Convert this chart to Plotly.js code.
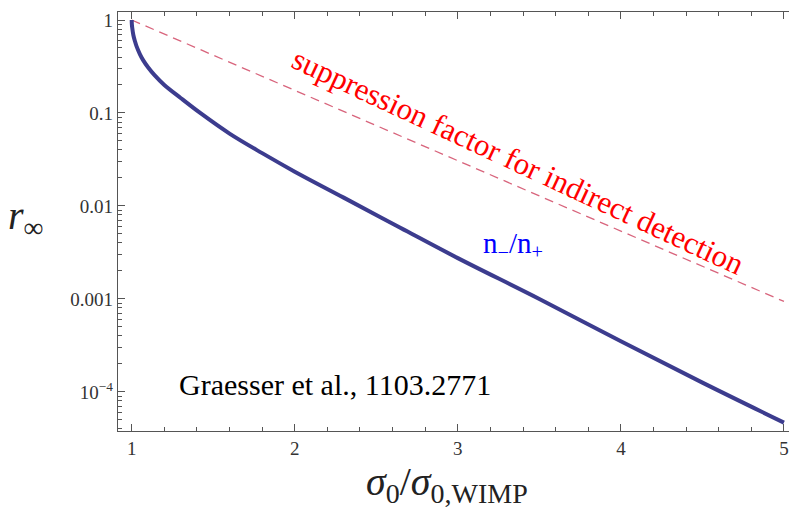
<!DOCTYPE html>
<html>
<head>
<meta charset="utf-8">
<script src="https://cdn.plot.ly/plotly-3.0.1.min.js"></script>
<style>html,body{margin:0;padding:0;background:#fff;}#chart{width:789px;height:508px;}</style>
</head>
<body>
<div id="chart"></div>
<script>
// sigma0 / sigma0,WIMP
const ratioX = [1, 1.001, 1.003, 1.01, 1.02, 1.03, 1.05, 1.07, 1.1, 1.14, 1.2, 1.3, 1.42, 1.6, 1.8, 2.0, 2.3, 2.65, 3.0, 3.5, 4.0, 4.5, 5.0];
// n-/n+ (r_infinity)
const ratioY = [1, 0.9, 0.83, 0.69, 0.59, 0.52, 0.43, 0.37, 0.31, 0.255, 0.2, 0.145, 0.1, 0.06, 0.037, 0.0234, 0.0123, 0.0058, 0.00275, 0.001, 0.00035, 0.000126, 0.0000468];
// suppression factor for indirect detection (dashed)
const suppX = [1, 2, 3, 4, 5];
const suppY = [1, 0.175, 0.0306, 0.00537, 0.00094];
// tick labels
const yTickVals = [1, 0.1, 0.01, 0.001, 0.0001];
const yTickText = ['1', '0.1', '0.01', '0.001', '10<sup>−4</sup>'];
const xTickVals = [1, 2, 3, 4, 5];
const xTickText = ['1', '2', '3', '4', '5'];

const serif = "'Liberation Serif', 'Times New Roman', serif";

const traces = [
  {x: suppX, y: suppY, mode: 'lines', line: {color: '#d8647c', width: 1.3, dash: '9px,6px'}, hoverinfo: 'skip'},
  {x: ratioX, y: ratioY, mode: 'lines', line: {color: '#3c3c8e', width: 4, shape: 'spline', smoothing: 1}, hoverinfo: 'skip'}
];

const layout = {
  width: 789, height: 508,
  margin: {l: 118, r: 0, t: 12, b: 77},
  paper_bgcolor: '#fff', plot_bgcolor: '#fff',
  showlegend: false,
  xaxis: {
    range: [0.916, 5.031], showgrid: false, zeroline: false,
    showline: true, linecolor: '#555', linewidth: 1.2, mirror: 'ticks',
    ticks: 'inside', ticklen: 7, tickcolor: '#555', tickwidth: 1,
    tickvals: xTickVals, ticktext: xTickText,
    tickfont: {family: serif, size: 19, color: '#333'},
    minor: {ticks: 'inside', ticklen: 4, tickcolor: '#555', dtick: 0.2, tick0: 1, showgrid: false}
  },
  yaxis: {
    type: 'log', range: [-4.42, 0.086], showgrid: false, zeroline: false,
    showline: true, linecolor: '#555', linewidth: 1.2,
    ticks: 'inside', ticklen: 7, tickcolor: '#555', tickwidth: 1,
    tickvals: yTickVals, ticktext: yTickText,
    tickfont: {family: serif, size: 19, color: '#333'},
    minor: {ticks: 'inside', ticklen: 4, tickcolor: '#555', dtick: 'D1', showgrid: false}
  },
  annotations: [
    {x: 3.37, y: -1.52, xref: 'x', yref: 'y', text: 'suppression factor for indirect detection',
     showarrow: false, textangle: 25, font: {family: serif, size: 31, color: '#ff0000'}},
    {x: 3.34, y: -2.417, xref: 'x', yref: 'y', text: 'n<sub>−</sub>/n<sub>+</sub>',
     showarrow: false, font: {family: serif, size: 29, color: '#0000ff'}},
    {x: 2.248, y: -3.92, xref: 'x', yref: 'y', text: 'Graesser et al., 1103.2771',
     showarrow: false, font: {family: serif, size: 30, color: '#000'}},
    {x: 0, y: 0, xref: 'paper', yref: 'paper', xanchor: 'left', yanchor: 'middle', text: '<i>r</i><sub>∞</sub>',
     showarrow: false, font: {family: serif, size: 40, color: '#222'}},
    {x: 0, y: 0, xref: 'paper', yref: 'paper', xanchor: 'left', yanchor: 'bottom',
     text: '<i>σ</i><sub>0</sub>/<i>σ</i><sub>0,WIMP</sub>',
     showarrow: false, font: {family: serif, size: 40, color: '#222'}}
  ]
};
// place axis-title annotations in pixel terms relative to the plot area
const plotW = 789 - 118, plotH = 508 - 12 - 77;
layout.annotations[3].x = (6 - 118) / plotW;
layout.annotations[3].y = (508 - 77 - 218) / plotH;
layout.annotations[4].x = (364 - 118) / plotW;
layout.annotations[4].y = (508 - 77 - 511) / plotH;

Plotly.newPlot('chart', traces, layout, {displayModeBar: false, staticPlot: true});
</script>
</body>
</html>
